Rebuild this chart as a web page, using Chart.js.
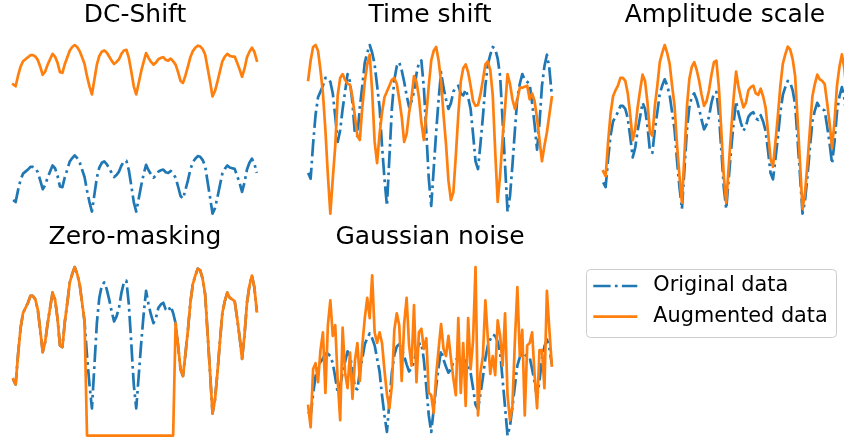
<!DOCTYPE html>
<html>
<head>
<meta charset="utf-8">
<script src="https://cdn.jsdelivr.net/npm/chart.js@4/dist/chart.umd.min.js"></script>
<style>
  html, body { margin: 0; padding: 0; background: #ffffff; }
  body { width: 844px; height: 437px; overflow: hidden; position: relative; }
  .panel { position: absolute; }
</style>
</head>
<body>
<div class="panel" style="left:1px;top:0px;width:268px;height:222px"><canvas id="dcShift"></canvas></div>
<div class="panel" style="left:296px;top:0px;width:268px;height:222px"><canvas id="timeShift"></canvas></div>
<div class="panel" style="left:591px;top:0px;width:268px;height:222px"><canvas id="ampScale"></canvas></div>
<div class="panel" style="left:1px;top:222px;width:268px;height:222px"><canvas id="zeroMask"></canvas></div>
<div class="panel" style="left:296px;top:222px;width:268px;height:222px"><canvas id="gaussNoise"></canvas></div>
<div class="panel" style="left:560px;top:250px;width:284px;height:100px"><canvas id="legendPanel"></canvas></div>

<script>
// Sample index along the time axis (100 samples per window)
const samples = [
  0,1,2,3,4,5,6,7,8,9,10,11,12,13,14,15,16,17,18,19,
  20,21,22,23,24,25,26,27,28,29,30,31,32,33,34,35,36,37,38,39,
  40,41,42,43,44,45,46,47,48,49,50,51,52,53,54,55,56,57,58,59,
  60,61,62,63,64,65,66,67,68,69,70,71,72,73,74,75,76,77,78,79,
  80,81,82,83,84,85,86,87,88,89,90,91,92,93,94,95,96,97,98,99
];

// Panel titles
const titles = ['DC-Shift', 'Time shift', 'Amplitude scale', 'Zero-masking', 'Gaussian noise'];
const seriesNames = ['Original data', 'Augmented data'];

// Original signal window
const originalData = [
  0.33,0.30,0.48,0.63,0.72,0.75,0.78,0.82,0.82,0.80,
  0.74,0.62,0.49,0.55,0.66,0.75,0.84,0.80,0.69,0.53,
  0.52,0.67,0.78,0.90,0.95,0.99,0.95,0.89,0.78,0.67,
  0.47,0.30,0.16,0.41,0.66,0.81,0.88,0.90,0.86,0.80,
  0.73,0.67,0.70,0.75,0.84,0.90,0.91,0.77,0.54,0.30,
  0.16,0.35,0.54,0.71,0.85,0.77,0.71,0.66,0.69,0.75,
  0.77,0.78,0.74,0.73,0.76,0.72,0.66,0.53,0.39,0.35,
  0.48,0.62,0.78,0.89,0.94,0.98,0.97,0.92,0.83,0.60,
  0.37,0.13,0.21,0.37,0.55,0.72,0.79,0.84,0.81,0.80,
  0.79,0.69,0.58,0.45,0.59,0.78,0.88,0.94,0.87,0.73
];

// DC-shifted window
const dcShiftData = [
  2.04,2.01,2.17,2.30,2.38,2.41,2.44,2.47,2.47,2.45,
  2.40,2.30,2.18,2.23,2.33,2.41,2.49,2.45,2.36,2.22,
  2.21,2.34,2.44,2.54,2.59,2.62,2.59,2.53,2.44,2.34,
  2.16,2.01,1.89,2.11,2.33,2.46,2.52,2.54,2.51,2.45,
  2.39,2.34,2.37,2.41,2.49,2.54,2.55,2.43,2.23,2.01,
  1.89,2.06,2.23,2.37,2.50,2.43,2.37,2.33,2.36,2.41,
  2.43,2.44,2.40,2.39,2.42,2.38,2.33,2.22,2.09,2.06,
  2.17,2.30,2.44,2.53,2.58,2.61,2.60,2.56,2.48,2.28,
  2.08,1.86,1.94,2.08,2.23,2.38,2.45,2.49,2.46,2.45,
  2.45,2.36,2.26,2.15,2.27,2.44,2.52,2.58,2.52,2.39
];

// Time-shifted window
const timeShiftData = [
  0.81,0.91,0.98,0.99,0.96,0.86,0.74,0.55,0.32,0.12,
  0.30,0.47,0.73,0.82,0.84,0.81,0.79,0.785,0.72,0.62,
  0.52,0.50,0.67,0.80,0.89,0.94,0.75,0.49,0.38,0.53,
  0.64,0.72,0.75,0.78,0.81,0.82,0.79,0.71,0.62,0.49,
  0.53,0.64,0.72,0.83,0.80,0.72,0.59,0.50,0.63,0.78,
  0.91,0.96,0.98,0.91,0.80,0.63,0.48,0.29,0.19,0.23,
  0.42,0.63,0.80,0.87,0.89,0.85,0.78,0.70,0.676,0.68,
  0.735,0.81,0.89,0.905,0.86,0.73,0.44,0.18,0.32,0.51,
  0.665,0.84,0.79,0.71,0.66,0.71,0.77,0.77,0.775,0.78,
  0.71,0.74,0.70,0.61,0.50,0.39,0.47,0.54,0.63,0.72
];

// Amplitude-scaled window
const ampScaleData = [
  0.40,0.37,0.59,0.77,0.88,0.92,0.95,1.00,1.00,0.98,
  0.90,0.76,0.60,0.67,0.81,0.92,1.02,0.98,0.84,0.65,
  0.63,0.82,0.95,1.10,1.16,1.21,1.16,1.09,0.95,0.82,
  0.57,0.37,0.20,0.50,0.81,0.99,1.07,1.10,1.05,0.98,
  0.89,0.82,0.85,0.92,1.02,1.10,1.11,0.94,0.66,0.37,
  0.20,0.43,0.66,0.87,1.04,0.94,0.87,0.81,0.84,0.92,
  0.94,0.95,0.90,0.89,0.93,0.88,0.81,0.65,0.48,0.43,
  0.59,0.76,0.95,1.09,1.15,1.20,1.18,1.12,1.01,0.73,
  0.45,0.16,0.26,0.45,0.67,0.88,0.96,1.02,0.99,0.98,
  0.96,0.84,0.71,0.55,0.72,0.95,1.07,1.15,1.06,0.89
];

// Zero-masked window
const zeroMaskData = [
  0.33,0.30,0.48,0.63,0.72,0.75,0.78,0.82,0.82,0.80,
  0.74,0.62,0.49,0.55,0.66,0.75,0.84,0.80,0.69,0.53,
  0.52,0.67,0.78,0.90,0.95,0.99,0.95,0.89,0.78,0.67,
  0,0,0,0,0,0,0,0,0,0,
  0,0,0,0,0,0,0,0,0,0,
  0,0,0,0,0,0,0,0,0,0,
  0,0,0,0,0,0,0.66,0.53,0.39,0.35,
  0.48,0.62,0.78,0.89,0.94,0.98,0.97,0.92,0.83,0.60,
  0.37,0.13,0.21,0.37,0.55,0.72,0.79,0.84,0.81,0.80,
  0.79,0.69,0.58,0.45,0.59,0.78,0.88,0.94,0.87,0.73
];

// Window with added Gaussian noise
const gaussNoiseData = [
  0.38,0.20,0.69,0.74,0.58,0.85,1.00,0.49,1.06,1.27,
  0.97,1.06,0.59,0.26,1.04,0.66,0.53,0.83,0.44,0.76,
  0.91,0.59,0.89,1.12,1.29,1.12,1.48,1.00,0.91,1.00,
  0.91,0.68,0.48,0.36,0.55,1.02,1.16,1.06,0.59,1.07,
  1.29,0.89,0.72,1.23,0.58,1.00,1.03,0.86,0.95,0.49,
  0.47,0.32,0.64,0.86,1.07,0.86,0.80,0.97,0.78,0.61,
  0.47,1.12,0.49,0.91,0.38,1.12,0.69,0.93,1.55,0.30,
  0.66,0.80,1.27,0.95,0.65,0.80,0.64,1.10,0.97,0.72,
  1.16,0.47,0.26,0.38,0.93,1.38,0.80,1.02,0.30,0.89,
  0.91,1.00,0.64,0.36,0.85,0.85,0.53,1.35,1.02,0.72
];

const BLUE = '#1f77b4';
const ORANGE = '#ff7f0e';
const LINE_W = 2.7;
const DASH_DOT = [17.3, 4.3, 2.7, 4.3];

const TITLE_FONT = { family: 'DejaVu Sans', size: 25, weight: 'normal' };

function makePanel(canvasId, title, original, augmented) {
  const all = original.concat(augmented);
  const lo = Math.min(...all);
  const hi = Math.max(...all);
  const pad = (hi - lo) * 0.05;
  const xPad = (samples[samples.length - 1] - samples[0]) * 0.05;
  return new Chart(document.getElementById(canvasId), {
    type: 'line',
    data: {
      labels: samples,
      datasets: [
        {
          label: seriesNames[0], data: original,
          borderColor: BLUE, borderWidth: LINE_W, borderDash: DASH_DOT,
          borderCapStyle: 'butt', borderJoinStyle: 'round',
          pointRadius: 0, fill: false, order: 1
        },
        {
          label: seriesNames[1], data: augmented,
          borderColor: ORANGE, borderWidth: LINE_W,
          borderCapStyle: 'square', borderJoinStyle: 'round',
          pointRadius: 0, fill: false, order: 0
        }
      ]
    },
    options: {
      responsive: true,
      maintainAspectRatio: false,
      animation: false,
      events: [],
      layout: { padding: 0 },
      elements: { line: { tension: 0 } },
      scales: {
        x: { type: 'linear', display: false, min: samples[0] - xPad, max: samples[samples.length - 1] + xPad },
        y: { type: 'linear', display: false, min: lo - pad, max: hi + pad }
      },
      plugins: {
        legend: { display: false },
        tooltip: { enabled: false },
        title: {
          display: true, text: title, color: '#000000',
          font: TITLE_FONT, padding: { top: 0.5, bottom: 6.1 }
        }
      }
    }
  });
}

makePanel('dcShift', titles[0], originalData, dcShiftData);
makePanel('timeShift', titles[1], originalData, timeShiftData);
makePanel('ampScale', titles[2], originalData, ampScaleData);
makePanel('zeroMask', titles[3], originalData, zeroMaskData);
makePanel('gaussNoise', titles[4], originalData, gaussNoiseData);

// Framed legend listing both series with their line styles
const framedLegend = {
  id: 'framedLegend',
  afterDraw(chart) {
    const ctx = chart.ctx;
    const x0 = 26.5, y0 = 19.5, w = 250, h = 68, r = 4;
    ctx.save();
    ctx.beginPath();
    ctx.moveTo(x0 + r, y0);
    ctx.arcTo(x0 + w, y0, x0 + w, y0 + h, r);
    ctx.arcTo(x0 + w, y0 + h, x0, y0 + h, r);
    ctx.arcTo(x0, y0 + h, x0, y0, r);
    ctx.arcTo(x0, y0, x0 + w, y0, r);
    ctx.closePath();
    ctx.fillStyle = 'rgba(255,255,255,0.8)';
    ctx.fill();
    ctx.lineWidth = 1;
    ctx.strokeStyle = '#cccccc';
    ctx.stroke();
    chart.data.datasets.forEach((ds, i) => {
      const y = 36 + i * 30.7;
      ctx.beginPath();
      ctx.setLineDash(ds.borderDash || []);
      ctx.lineCap = 'butt';
      ctx.strokeStyle = ds.borderColor;
      ctx.lineWidth = ds.borderWidth;
      ctx.moveTo(33.3, y);
      ctx.lineTo(77.3, y);
      ctx.stroke();
      ctx.setLineDash([]);
      ctx.fillStyle = '#000000';
      ctx.font = '20.8px "DejaVu Sans"';
      ctx.textBaseline = 'middle';
      ctx.textAlign = 'left';
      ctx.fillText(ds.label, 93.3, y);
    });
    ctx.restore();
  }
};

new Chart(document.getElementById('legendPanel'), {
  type: 'line',
  data: {
    labels: [],
    datasets: [
      { label: seriesNames[0], data: [], borderColor: BLUE, borderWidth: LINE_W, borderDash: DASH_DOT },
      { label: seriesNames[1], data: [], borderColor: ORANGE, borderWidth: LINE_W }
    ]
  },
  options: {
    responsive: true,
    maintainAspectRatio: false,
    animation: false,
    events: [],
    scales: { x: { display: false }, y: { display: false } },
    plugins: { legend: { display: false }, tooltip: { enabled: false }, title: { display: false } }
  },
  plugins: [framedLegend]
});
</script>
</body>
</html>
